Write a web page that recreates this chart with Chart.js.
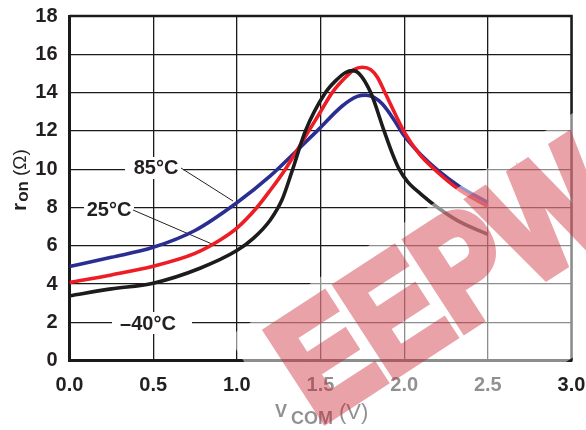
<!DOCTYPE html>
<html>
<head>
<meta charset="utf-8">
<script src="https://cdn.jsdelivr.net/npm/chart.js@4.4.0/dist/chart.umd.min.js"></script>
<style>
  html, body { margin: 0; padding: 0; background: #fff; }
  #wrap { width: 586px; height: 430px; position: relative; }
</style>
</head>
<body>
<div id="wrap"><canvas id="ronChart"></canvas></div>
<script>
// on-resistance vs common voltage
const v40 = [0, 0.25, 0.5, 0.78, 1.0, 1.1, 1.2, 1.27, 1.33, 1.41, 1.53, 1.6, 1.65, 1.69, 1.73, 1.8, 1.88, 1.93, 1.97, 2.02, 2.1, 2.2, 2.33, 2.5];
const r40 = [3.39, 3.75, 4.05, 4.83, 5.75, 6.4, 7.35, 8.4, 9.9, 12.0, 14.0, 14.7, 15.05, 15.15, 15.0, 14.0, 12.0, 10.8, 10.0, 9.35, 8.7, 8.0, 7.26, 6.6];

const v25 = [0, 0.25, 0.5, 0.75, 0.9, 1.0, 1.12, 1.2, 1.29, 1.43, 1.5, 1.57, 1.65, 1.7, 1.75, 1.8, 1.84, 1.88, 1.94, 2.0, 2.09, 2.18, 2.33, 2.5];
const r25 = [4.08, 4.48, 4.93, 5.6, 6.3, 6.92, 8.0, 8.9, 10.0, 12.0, 13.0, 14.0, 14.8, 15.2, 15.32, 15.2, 14.8, 14.1, 13.0, 11.95, 10.8, 10.0, 8.92, 8.05];

const v85 = [0, 0.25, 0.5, 0.75, 1.0, 1.2, 1.35, 1.48, 1.63, 1.72, 1.77, 1.82, 1.87, 1.93, 2.0, 2.1, 2.2, 2.33, 2.5];
const r85 = [4.92, 5.4, 5.92, 6.8, 8.25, 9.65, 10.9, 12.0, 13.3, 13.8, 13.87, 13.75, 13.4, 12.7, 11.75, 10.75, 9.95, 9.1, 8.26];

const xTicks = [0, 0.5, 1.0, 1.5, 2.0, 2.5, 3.0];
const yTicks = [0, 2, 4, 6, 8, 10, 12, 14, 16, 18];

const FONT = "'Liberation Sans', Arial, sans-serif";

function toPoints(xs, ys) {
    return xs.map((x, i) => ({ x: x, y: ys[i] }));
}

function series(label, xs, ys, color) {
    return {
        label: label,
        data: toPoints(xs, ys),
        borderColor: color,
        borderWidth: 3.6,
        pointRadius: 0,
        cubicInterpolationMode: 'monotone',
        fill: false,
    };
}

// temperature labels with white boxes that break the grid
const labelPlugin = {
    id: 'labels',
    beforeDatasetsDraw(chart) {
        const ctx = chart.ctx;
        const a = chart.chartArea;
        ctx.save();
        // top / right frame
        ctx.strokeStyle = '#1a1a1a';
        ctx.lineWidth = 2.5;
        ctx.beginPath();
        ctx.moveTo(a.left, a.top);
        ctx.lineTo(a.right, a.top);
        ctx.lineTo(a.right, a.bottom);
        ctx.stroke();

        ctx.fillStyle = '#fff';
        ctx.fillRect(125, 157, 58, 22);
        ctx.fillRect(84, 199, 50, 20);
        ctx.fillRect(112, 312, 80, 22);

        ctx.strokeStyle = '#222';
        ctx.lineWidth = 1;
        ctx.beginPath();
        ctx.moveTo(181, 168);
        ctx.lineTo(233, 201);
        ctx.moveTo(133, 210);
        ctx.lineTo(212, 244);
        ctx.stroke();

        ctx.fillStyle = '#231f20';
        ctx.font = 'bold 20px ' + FONT;
        ctx.textAlign = 'center';
        ctx.textBaseline = 'alphabetic';
        ctx.fillText('85°C', 156, 174);
        ctx.fillText('25°C', 109, 216);
        ctx.fillText('\u201340°C', 148, 330);
        ctx.restore();
    }
};

// axis titles with subscripts, and the watermark
const titlePlugin = {
    id: 'titles',
    afterDraw(chart) {
        const ctx = chart.ctx;
        ctx.save();
        ctx.fillStyle = '#231f20';
        ctx.textBaseline = 'alphabetic';
        ctx.textAlign = 'left';

        // y title: r on (Ω), rotated
        ctx.save();
        ctx.translate(26, 211);
        ctx.rotate(-Math.PI / 2);
        ctx.font = 'bold 21px ' + FONT;
        ctx.fillText('r', 0, 0);
        let w = ctx.measureText('r').width;
        ctx.font = 'bold 17px ' + FONT;
        ctx.fillText('on', w + 1, 1.5);
        w += 1 + ctx.measureText('on').width + 5;
        ctx.font = '19px ' + FONT;
        ctx.fillText('(\u03A9)', w, 0);
        ctx.restore();

        // x title: VCOM (V)
        ctx.font = 'bold 18px ' + FONT;
        ctx.fillText('V', 275, 417);
        ctx.font = 'bold 18px ' + FONT;
        ctx.fillText('COM', 291, 424);
        ctx.font = '22px ' + FONT;
        ctx.fillText('(V)', 339, 419);

        // watermark: letters drawn opaque off-screen, then blended
        const off = document.createElement('canvas');
        off.width = chart.width;
        off.height = chart.height;
        const o = off.getContext('2d');
        o.translate(318, 424);
        o.rotate(-33 * Math.PI / 180);
        o.scale(0.82, 1);
        o.fillStyle = 'rgb(199,30,45)';
        o.strokeStyle = 'rgb(199,30,45)';
        o.lineWidth = 10;
        o.lineJoin = 'miter';
        o.font = 'bold 152px ' + FONT;
        o.fillText('EEPW', 0, 0);
        o.strokeText('EEPW', 0, 0);

        ctx.translate(318, 424);
        ctx.rotate(-33 * Math.PI / 180);
        ctx.fillStyle = 'rgba(255,255,255,0.5)';
        ctx.fillRect(-28, -122, 460, 205);
        ctx.setTransform(1, 0, 0, 1, 0, 0);
        ctx.globalAlpha = 0.41;
        ctx.drawImage(off, 0, 0);
        ctx.restore();
    }
};

const config = {
    type: 'line',
    data: {
        datasets: [
            series('-40°C', v40, r40, '#1c1c1c'),
            series('25°C', v25, r25, '#ee1c25'),
            series('85°C', v85, r85, '#2b2e91'),
        ]
    },
    options: {
        responsive: true,
        maintainAspectRatio: false,
        animation: false,
        layout: { padding: { top: 16, right: 14.5, left: 0, bottom: 0 } },
        plugins: {
            legend: { display: false },
            tooltip: { enabled: false },
            title: { display: false },
        },
        scales: {
            x: {
                type: 'linear',
                min: 0,
                max: 3,
                afterFit: (s) => {
                    s.height = 69.3;
                    s.paddingLeft = 0;
                    s.paddingRight = 0;
                },
                afterBuildTicks: (s) => { s.ticks = xTicks.map(v => ({ value: v })); },
                grid: { color: '#1a1a1a', lineWidth: 1.3, drawTicks: false },
                border: { color: '#1a1a1a', width: 3 },
                ticks: {
                    padding: 13,
                    color: '#231f20',
                    font: { family: FONT, size: 20, weight: 'bold' },
                    callback: (v) => Number(v).toFixed(1),
                },
            },
            y: {
                min: 0,
                max: 18,
                afterFit: (s) => {
                    s.width = 69.5;
                    s.paddingTop = 0;
                    s.paddingBottom = 0;
                },
                afterBuildTicks: (s) => { s.ticks = yTicks.map(v => ({ value: v })); },
                grid: { color: '#1a1a1a', lineWidth: 1.3, drawTicks: false },
                border: { color: '#1a1a1a', width: 3 },
                ticks: {
                    padding: 12,
                    color: '#231f20',
                    font: { family: FONT, size: 20, weight: 'bold' },
                },
            },
        },
    },
    plugins: [labelPlugin, titlePlugin],
};

const ctx = document.getElementById('ronChart').getContext('2d');
const ronChart = new Chart(ctx, config);
</script>
</body>
</html>
